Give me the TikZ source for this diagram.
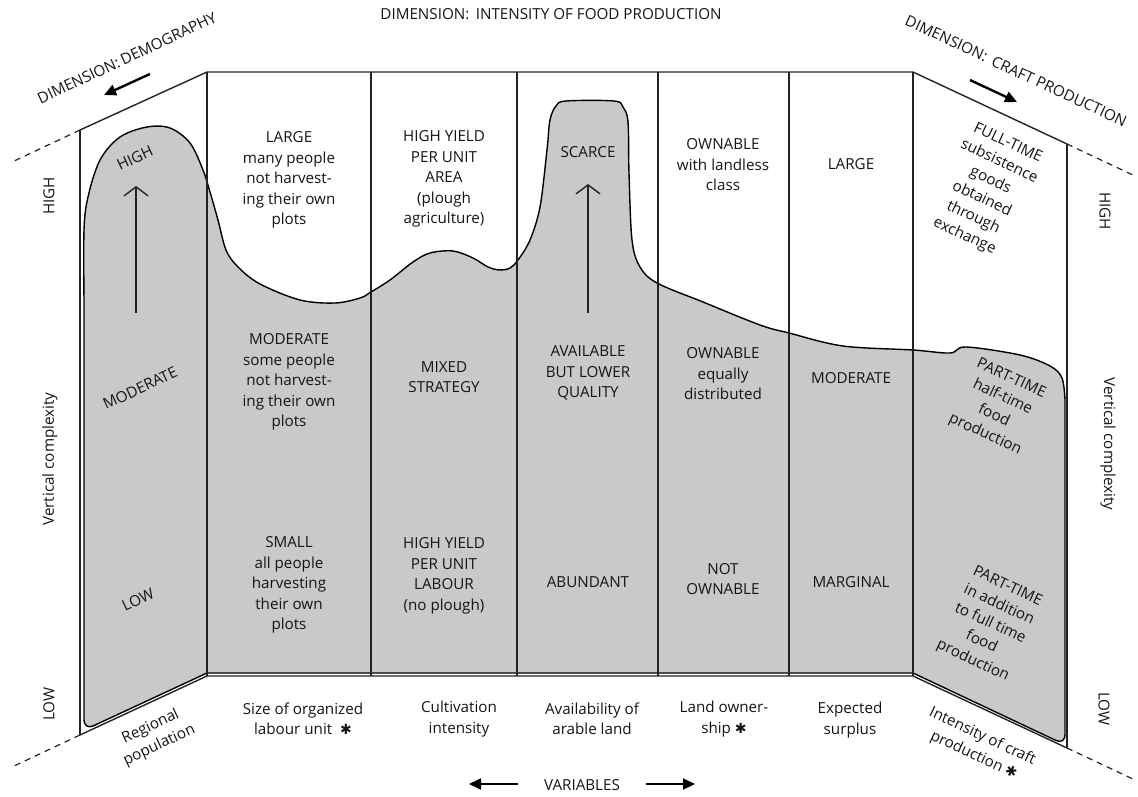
\documentclass[tikz,border=0pt]{standalone}
\usepackage{fontspec}
\setmainfont{Open Sans}
\newfontfamily\symbolfont{DejaVu Sans}
\usetikzlibrary{arrows.meta}
\definecolor{ink}{HTML}{222222}
\definecolor{type}{HTML}{151515}
\definecolor{shade}{HTML}{C9C9C9}
\newcommand\starmark{{\symbolfont\fontsize{14}{14}\selectfont ✱}}
\begin{document}
\begin{tikzpicture}[x=1pt,y=-1pt,
  frameline/.style={draw=ink, line width=1.4pt},
  shaded/.style={draw=black, line width=1.4pt, fill=shade},
  guide/.style={draw=ink, line width=1.2pt, dash pattern=on 6pt off 5pt},
  lbl/.style={text=type, align=center, font=\fontsize{15.2}{20.5}\selectfont, inner sep=0pt},
  rise/.style={draw=ink, line width=1.4pt, -{Straight Barb[length=9pt,width=24pt,line width=1.4pt]}},
  dirarrow/.style={draw=black, line width=2.4pt, -{Triangle[length=12pt,width=11pt]}},
]
\useasboundingbox (0,0) rectangle (1138,797);

% corners of the folded screen
\coordinate (ltop) at (80,130);
\coordinate (lbot) at (80,735);
\coordinate (mtl) at (207,72);
\coordinate (mbl) at (207,676);
\coordinate (mtr) at (913,72);
\coordinate (mbr) at (913,676);
\coordinate (rtop) at (1067,144);
\coordinate (rbot) at (1067,748);
\coordinate (ltopx) at (12,162);
\coordinate (lbotx) at (12,767);
\coordinate (rtopx) at (1135,176);
\coordinate (rbotx) at (1135,780);

% shaded complexity profile
\path[shaded] plot[smooth, tension=0.55] coordinates {
  (84,300) (84,230) (88,197) (100,160) (120,137) (147,127) (170,128)
  (190,143) (203,170) (210,192) (218,220) (226,250) (238,267) (260,284)
  (300,300) (335,303) (360,298) (371,292) (390,280) (413,262) (430,253)
  (453,251) (473,258) (488,267) (500,270) (510,268) (518,260) (530,240)
  (540,207) (547,150) (550,120) (556,106) (566,101) (614,101) (623,107)
  (628,122) (629,173) (632,240) (640,267) (657,283) (703,302) (760,325)
  (789,333) (843,346) (913,350) (950,353) (966,347) (1020,355) (1050,366)
  (1062,378) (1065,400)}
  -- (1065,734) .. controls (1065,741) and (1061,743) .. (1055,740)
  -- (913,673) -- (207,673) -- (93,726)
  .. controls (88,728) and (84,726) .. (84,719) -- cycle;

% frame of the screen
\draw[frameline] (ltop) -- (mtl) -- (mtr) -- (rtop);
\draw[frameline] (lbot) -- (mbl) -- (mbr) -- (rbot);
\draw[frameline] (ltop) -- (lbot);
\draw[frameline] (rtop) -- (rbot);
\foreach \xx in {207,371,517,658,789,913}
  \draw[frameline] (\xx,72) -- (\xx,676);
\draw[guide] (ltop) -- (ltopx);
\draw[guide] (lbot) -- (lbotx);
\draw[guide] (rtop) -- (rtopx);
\draw[guide] (rbot) -- (rbotx);

% titles and axis labels
\node[lbl] (title) at (551,14) {DIMENSION:\, INTENSITY OF FOOD PRODUCTION};
\node[lbl, rotate=25] (demog) at (127,58) {DIMENSION:\,DEMOGRAPHY};
\node[lbl, rotate=-25] (craft) at (1016,71) {DIMENSION:\, CRAFT PRODUCTION};
\coordinate (demogA) at (150,74);
\coordinate (demogB) at (104,95);
\draw[dirarrow] (demogA) -- (demogB);
\coordinate (craftA) at (970,80);
\coordinate (craftB) at (1017,102);
\draw[dirarrow] (craftA) -- (craftB);

\node[lbl, rotate=90] (lhigh) at (49,196) {HIGH};
\node[lbl, rotate=90] (lvert) at (50,459) {Vertical complexity};
\node[lbl, rotate=90] (llow) at (49,704) {LOW};
\node[lbl, rotate=-90] (rhigh) at (1105,211) {HIGH};
\node[lbl, rotate=-90] (rvert) at (1108,444) {Vertical complexity};
\node[lbl, rotate=-90] (rlow) at (1104,709) {LOW};

% regional population panel
\node[lbl, rotate=25] (popH) at (135,158) {HIGH};
\node[lbl, rotate=25] (popM) at (140,388) {MODERATE};
\node[lbl, rotate=25] (popL) at (138,600) {LOW};
\coordinate (popA) at (136,313);
\coordinate (popB) at (136,186);
\draw[rise] (popA) -- (popB);

% size of organized labour unit
\node[lbl] (labH) at (289,180) {LARGE\\many people\\not harvest-\\ing their own\\plots};
\node[lbl] (labM) at (289,382) {MODERATE\\some people\\not harvest-\\ing their own\\plots};
\node[lbl] (labL) at (289,585) {SMALL\\all people\\harvesting\\their own\\plots};

% cultivation intensity
\node[lbl] (culH) at (444,179) {HIGH YIELD\\PER UNIT\\AREA\\(plough\\agriculture)};
\node[lbl] (culM) at (444,377) {MIXED\\STRATEGY};
\node[lbl] (culL) at (444,576) {HIGH YIELD\\PER UNIT\\LABOUR\\(no plough)};

% availability of arable land
\node[lbl] (araH) at (588,152) {SCARCE};
\node[lbl] (araM) at (588,373) {AVAILABLE\\BUT LOWER\\QUALITY};
\node[lbl] (araL) at (588,582) {ABUNDANT};
\coordinate (araA) at (588,313);
\coordinate (araB) at (588,184);
\draw[rise] (araA) -- (araB);

% land ownership
\node[lbl] (ownH) at (723,165) {OWNABLE\\with landless\\class};
\node[lbl] (ownM) at (723,374) {OWNABLE\\equally\\distributed};
\node[lbl] (ownL) at (723,579) {NOT\\OWNABLE};

% expected surplus
\node[lbl] (surH) at (851,164) {LARGE};
\node[lbl] (surM) at (851,378) {MODERATE};
\node[lbl] (surL) at (851,582) {MARGINAL};

% intensity of craft production
\node[lbl, rotate=-25] (crfH) at (986,190) {FULL-TIME\\subsistence\\goods\\obtained\\through\\exchange};
\node[lbl, rotate=-25] (crfM) at (998,407) {PART-TIME\\half-time\\food\\production};
\node[lbl, rotate=-25] (crfL) at (990,624) {PART-TIME\\in addition\\to full time\\food\\production};

% variable names along the base
\node[lbl, rotate=25] (varPop) at (155,736) {Regional\\population};
\node[lbl] (varLab) at (303,719) {Size of organized\\labour unit \ \starmark};
\node[lbl] (varCul) at (459,719) {Cultivation\\intensity};
\node[lbl] (varAra) at (592,719) {Availability of\\arable land};
\node[lbl] (varOwn) at (724,719) {Land owner-\\ship \starmark};
\node[lbl] (varSur) at (850,720) {Expected\\surplus};
\node[lbl, rotate=-25] (varCrf) at (978,746) {Intensity of craft\\production \starmark};

\node[lbl] (vars) at (582,785) {VARIABLES};
\coordinate (varsLA) at (518,784);
\coordinate (varsLB) at (469,784);
\coordinate (varsRA) at (646,784);
\coordinate (varsRB) at (695,784);
\draw[dirarrow, line width=2pt] (varsLA) -- (varsLB);
\draw[dirarrow, line width=2pt] (varsRA) -- (varsRB);
\end{tikzpicture}
\end{document}
